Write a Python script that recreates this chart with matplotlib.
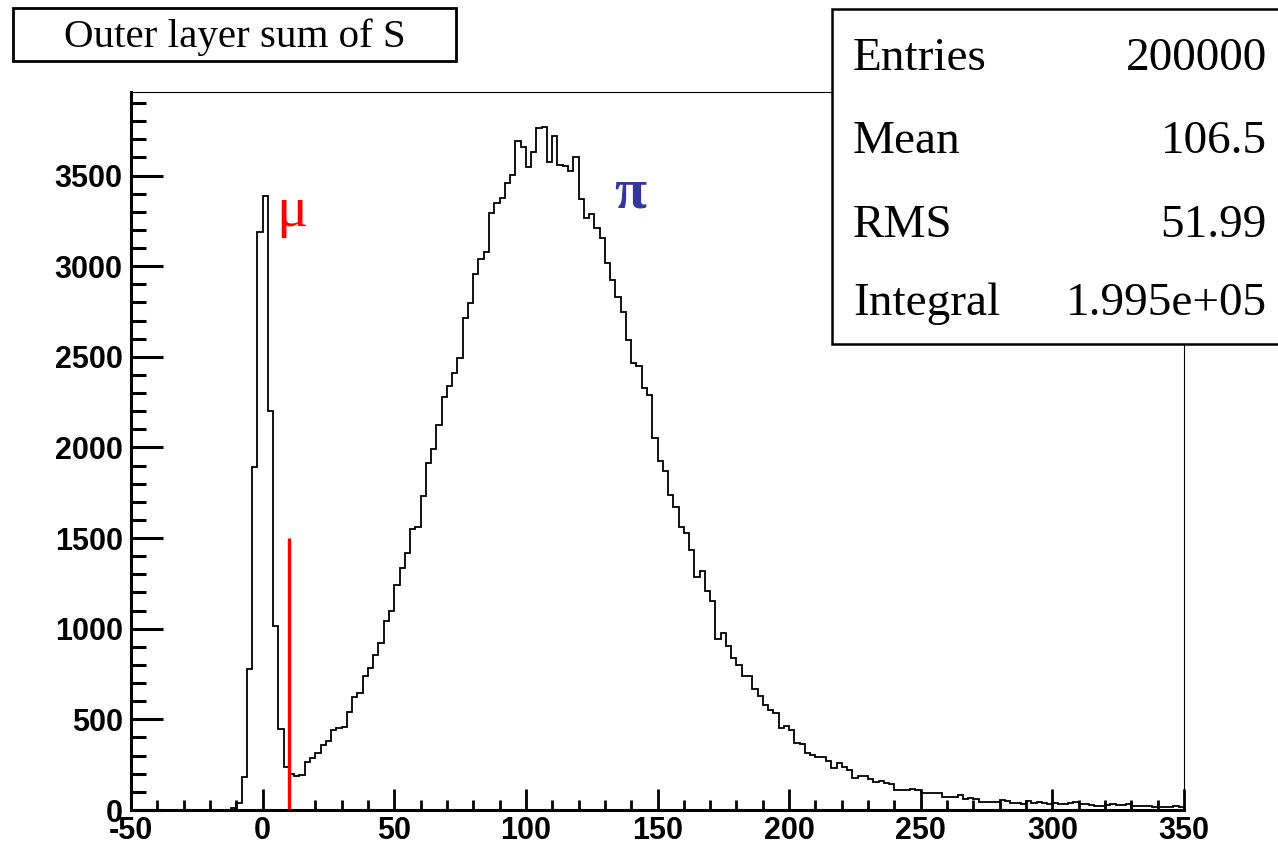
import numpy as np
import matplotlib

matplotlib.use("Agg")
import matplotlib.pyplot as plt  # noqa: E402
from matplotlib.patches import Rectangle  # noqa: E402

plt.rcParams["axes.unicode_minus"] = False

# 200 bins of width 2 between -50 and 350
bin_edges = np.arange(-50, 352, 2)

# bin contents, left to right
empty_bins = [0] * 19  # -50 .. -12
mu_peak = [10, 40, 180, 780, 1890, 3190, 3390, 2200, 1015, 445, 235, 197, 190, 191]  # -12 .. 16
pi_rise = [267, 285, 313, 359, 378, 440, 451, 459, 543, 626, 648, 740, 781, 856, 919,
           1040, 1099, 1243, 1335, 1418, 1551, 1560, 1733, 1915, 1989, 2122, 2280,
           2339, 2409, 2495, 2713, 2796, 2958, 3037, 3076, 3291, 3346, 3376, 3460, 3505]  # 16 .. 96
pi_peak = [3692, 3659, 3545, 3628, 3760, 3770, 3575, 3720, 3560, 3555, 3527, 3600]  # 96 .. 120
pi_fall = [3368, 3267, 3289, 3211, 3156, 3018, 2926, 2832, 2749, 2592, 2468, 2449, 2328,
           2290, 2050, 1923, 1870, 1736, 1673, 1562, 1528, 1433, 1285, 1321, 1208, 1155,
           943, 974, 904, 838, 800, 737, 740, 670, 628, 582, 552, 534, 455, 466]  # 120 .. 200
tail = [440, 372, 364, 315, 301, 292, 292, 272, 234, 258, 235, 219, 178, 187, 188, 170,
        154, 160, 147, 142, 112, 110, 112, 114, 110, 92, 92, 92, 92, 74, 74, 74, 83, 59,
        64, 61, 46, 46, 46, 46, 55, 52, 41, 41, 33, 52, 41, 46, 41, 33, 37, 33, 33, 41,
        46, 33, 33, 28, 24, 24, 28, 31, 28, 28, 33, 24, 22, 22, 22, 18, 18, 18, 18, 22, 15]  # 200 .. 350

counts = np.array(empty_bins + mu_peak + pi_rise + pi_peak + pi_fall + tail, dtype=float)

cut_position = 10
cut_height = 1500

title = "Outer layer sum of S"
stat_names = ["Entries", "Mean", "RMS", "Integral"]
stat_values = ["200000", "106.5", "51.99", "1.995e+05"]

W, H = 1278, 847


def fx(px):
    return px / W


def fy(py):
    return 1 - py / H


fig = plt.figure(figsize=(W / 100, H / 100), dpi=100)
ax = fig.add_axes([fx(131), fy(810), fx(1184) - fx(131), fy(92) - fy(810)])

ax.stairs(counts, bin_edges, color="black", linewidth=1.3)
ax.vlines(cut_position, 0, cut_height, color="red", linewidth=2.4)

ax.set_xlim(-50, 350)
ax.set_ylim(0, 3961)

ax.set_xticks(np.arange(-50, 351, 50))
ax.set_xticks(np.arange(-50, 351, 10), minor=True)
ax.set_yticks(np.arange(0, 3501, 500))
ax.set_yticks(np.arange(0, 3901, 100), minor=True)

ax.tick_params(axis="both", which="both", direction="in", top=False, right=False)
ax.tick_params(axis="y", which="major", length=23, width=2.2, pad=6)
ax.tick_params(axis="y", which="minor", length=11, width=2.2)
ax.tick_params(axis="x", which="major", length=15, width=2.0, pad=4.5)
ax.tick_params(axis="x", which="minor", length=7, width=2.0)

for lab in ax.get_xticklabels() + ax.get_yticklabels():
    lab.set_fontfamily("Liberation Sans")
    lab.set_fontweight("bold")
    lab.set_fontsize(22)

ax.spines["left"].set_linewidth(2.2)
ax.spines["bottom"].set_linewidth(2.2)
ax.spines["top"].set_linewidth(0.8)
ax.spines["right"].set_linewidth(0.8)

ax.text(5, 3300, "\u03bc", color="red", fontsize=42, family="Liberation Serif",
        ha="left", va="center")
ax.text(139.5, 3400, "\u03c0", color="#3535a0", fontsize=42, family="Liberation Serif",
        ha="center", va="center", fontweight="bold")

# title box
fig.patches.append(Rectangle((fx(13), fy(61)), fx(456) - fx(13), fy(8) - fy(61),
                             transform=fig.transFigure, facecolor="white",
                             edgecolor="black", linewidth=2))
fig.text(fx(235), fy(47), title, ha="center", va="baseline",
         family="Liberation Serif", fontsize=29.5)

# statistics box
fig.patches.append(Rectangle((fx(832), fy(344)), fx(1290) - fx(832), fy(9) - fy(344),
                             transform=fig.transFigure, facecolor="white",
                             edgecolor="black", linewidth=1.8, zorder=5))
baselines = [70, 153, 237, 315]
for name, value, yb in zip(stat_names, stat_values, baselines):
    fig.text(fx(853), fy(yb), name, ha="left", va="baseline",
             family="Liberation Serif", fontsize=34, zorder=6)
    fig.text(fx(1267), fy(yb), value, ha="right", va="baseline",
             family="Liberation Serif", fontsize=34, zorder=6)

fig.savefig("out.png", dpi=100)
